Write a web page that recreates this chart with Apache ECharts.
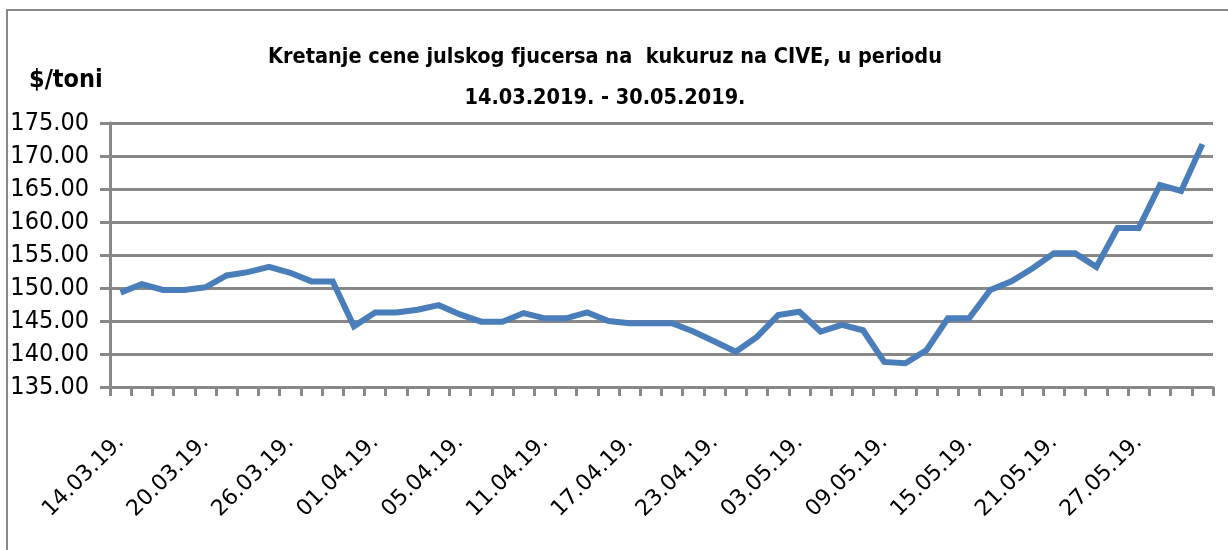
<!DOCTYPE html>
<html>
<head>
<meta charset="utf-8">
<script src="https://cdn.jsdelivr.net/npm/echarts@6/dist/echarts.min.js"></script>
<style>
  html, body { margin: 0; padding: 0; background: #fff; }
  #main { width: 1228px; height: 550px; }
</style>
</head>
<body>
<div id="main"></div>
<script>
// datumi (trgovacki dani) i cena julskog fjucersa, $/toni
var dates = [
  "14.03.19.", "15.03.19.", "18.03.19.", "19.03.19.", "20.03.19.", "21.03.19.", "22.03.19.", "25.03.19.",
  "26.03.19.", "27.03.19.", "28.03.19.", "29.03.19.", "01.04.19.", "02.04.19.", "03.04.19.", "04.04.19.",
  "05.04.19.", "08.04.19.", "09.04.19.", "10.04.19.", "11.04.19.", "12.04.19.", "15.04.19.", "16.04.19.",
  "17.04.19.", "18.04.19.", "19.04.19.", "22.04.19.", "23.04.19.", "25.04.19.", "29.04.19.", "01.05.19.",
  "03.05.19.", "06.05.19.", "07.05.19.", "08.05.19.", "09.05.19.", "10.05.19.", "13.05.19.", "14.05.19.",
  "15.05.19.", "16.05.19.", "17.05.19.", "20.05.19.", "21.05.19.", "22.05.19.", "23.05.19.", "24.05.19.",
  "27.05.19.", "28.05.19.", "29.05.19.", "30.05.19."
];
var prices = [
  149.3, 150.6, 149.7, 149.7, 150.1, 151.9, 152.4, 153.2,
  152.3, 151.0, 151.0, 144.2, 146.3, 146.3, 146.7, 147.4,
  146.0, 144.9, 144.9, 146.2, 145.4, 145.4, 146.3, 145.0,
  144.65, 144.65, 144.65, 143.4, 141.9, 140.35, 142.6, 145.9,
  146.4, 143.4, 144.4, 143.6, 138.8, 138.6, 140.6, 145.4,
  145.4, 149.7, 151.0, 153.0, 155.25, 155.25, 153.2, 159.1,
  159.1, 165.6, 164.7, 171.8
];
var titleLines = ["Kretanje cene julskog fjucersa na  kukuruz na CIVE, u periodu", "14.03.2019. - 30.05.2019."];
var unitLabel = "$/toni";

var gray = "#888888";
var narrow = "'DejaVu Sans Condensed', 'Liberation Sans', sans-serif";
var chart = echarts.init(document.getElementById("main"));
chart.setOption({
  animation: false,
  backgroundColor: "#fff",
  graphic: [{
    type: "rect",
    shape: {x: 7, y: 10, width: 1400, height: 700},
    style: {fill: "none", stroke: gray, lineWidth: 2}
  }],
  title: [{
    text: titleLines.join("\n"),
    left: 600, top: 32, textAlign: "center",
    textStyle: {fontFamily: narrow, fontWeight: "bold", fontSize: 21.5, lineHeight: 41, color: "#000"}
  }, {
    text: unitLabel,
    left: 24, top: 63,
    textStyle: {fontFamily: narrow, fontWeight: "bold", fontSize: 25, color: "#000"}
  }],
  grid: {left: 110, right: 15, top: 123, bottom: 163},
  xAxis: {
    type: "category",
    data: dates,
    boundaryGap: true,
    axisLine: {lineStyle: {color: gray, width: 3}},
    axisTick: {show: true, interval: 0, length: 9, lineStyle: {color: gray, width: 3}},
    axisLabel: {
      interval: 3, rotate: 45, margin: 52,
      fontFamily: "DejaVu Sans", fontSize: 22, color: "#000"
    },
    splitLine: {show: false}
  },
  yAxis: {
    type: "value",
    min: 135, max: 175, interval: 5,
    axisLine: {show: true, lineStyle: {color: gray, width: 3}},
    axisTick: {show: true, length: 10, lineStyle: {color: gray, width: 3}},
    axisLabel: {
      margin: 21, fontFamily: narrow, fontSize: 25, color: "#000",
      formatter: function (v) { return v.toFixed(2); }
    },
    splitLine: {lineStyle: {color: gray, width: 3}}
  },
  series: [{
    type: "line",
    data: prices,
    symbol: "none",
    lineStyle: {color: "#4a7ebb", width: 6, join: "miter"}
  }]
});
</script>
</body>
</html>
